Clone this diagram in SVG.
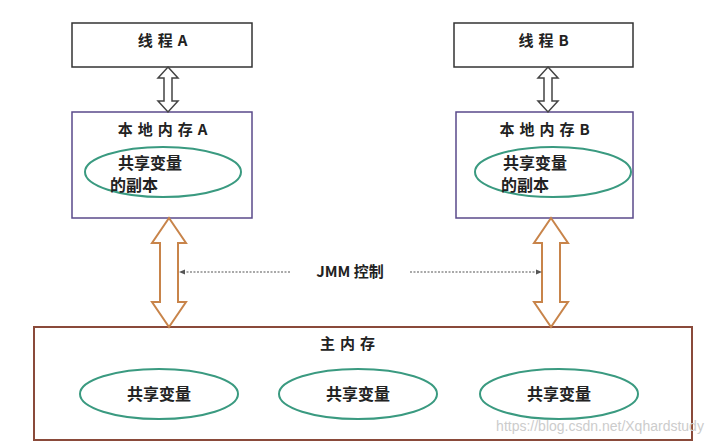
<svg xmlns="http://www.w3.org/2000/svg" width="721" height="446" viewBox="0 0 721 446">
<style>
text{font-family:"Noto Sans CJK SC","Liberation Sans",sans-serif;font-weight:bold;fill:#222;text-anchor:middle}
.t{font-size:15px}
.s{letter-spacing:5px}
.v{font-size:16px}
.e{fill:none;stroke:#3a9a80;stroke-width:2}
.ga{fill:#fff;stroke:#444;stroke-width:1.5}
.oa{fill:#fff;stroke:#c8844a;stroke-width:2}
</style>
<rect width="721" height="446" fill="#fff"/>
<g id="threadA"><rect x="72" y="23" width="180" height="44" fill="#fff" stroke="#333" stroke-width="1.5"/><text class="t s" x="165" y="46">线程A</text></g>
<g id="threadB"><rect x="454" y="23" width="179" height="44" fill="#fff" stroke="#333" stroke-width="1.5"/><text class="t s" x="546" y="46">线程B</text></g>
<g id="localA"><rect x="72" y="112" width="180" height="106" fill="#fff" stroke="#5a4a8a" stroke-width="1.5"/><text class="t s" x="165" y="135">本地内存A</text><ellipse class="e" cx="163" cy="172" rx="78" ry="25"/><text class="v" x="150" y="169">共享变量</text><text class="v" x="134" y="191">的副本</text></g>
<g id="localB"><rect x="456" y="112" width="177" height="106" fill="#fff" stroke="#5a4a8a" stroke-width="1.5"/><text class="t s" x="547" y="135">本地内存B</text><ellipse class="e" cx="553" cy="172" rx="78" ry="25"/><text class="v" x="535" y="169">共享变量</text><text class="v" x="525" y="191">的副本</text></g>
<g id="main"><rect x="34" y="327" width="658" height="113" fill="#fff" stroke="#8a4a3a" stroke-width="2"/><text class="t s" x="350" y="349">主内存</text>
<ellipse class="e" cx="159" cy="394" rx="79" ry="25"/><text class="v" x="159" y="400">共享变量</text>
<ellipse class="e" cx="358" cy="394" rx="79" ry="25"/><text class="v" x="358" y="400">共享变量</text>
<ellipse class="e" cx="559" cy="394" rx="79" ry="25"/><text class="v" x="559" y="400">共享变量</text>
<text x="600" y="431" style="font-family:'Liberation Sans',sans-serif;font-weight:normal;font-size:14px;fill:#ccc">https://blog.csdn.net/Xqhardstudy</text></g>
<g id="connectors">
<polygon class="ga" points="168,67 178,78 172,78 172,101 178,101 168,112 158,101 164,101 164,78 158,78"/>
<polygon class="ga" points="548,67 558,78 552,78 552,101 558,101 548,112 538,101 544,101 544,78 538,78"/>
<polygon class="oa" points="169,218 186,243 178,243 178,302 186,302 169,327 152,302 160,302 160,243 152,243"/>
<polygon class="oa" points="551,218 568,243 560,243 560,302 568,302 551,327 534,302 542,302 542,243 534,243"/>
<line x1="290" y1="272" x2="182" y2="272" stroke="#555" stroke-width="1.2" stroke-dasharray="2,1.5"/>
<polygon points="179,272 185,269.5 185,274.5" fill="#555"/>
<line x1="410" y1="272" x2="539" y2="272" stroke="#555" stroke-width="1.2" stroke-dasharray="2,1.5"/>
<polygon points="542,272 536,269.5 536,274.5" fill="#555"/>
<text class="t" x="350" y="277">JMM 控制</text>
</g>
</svg>
